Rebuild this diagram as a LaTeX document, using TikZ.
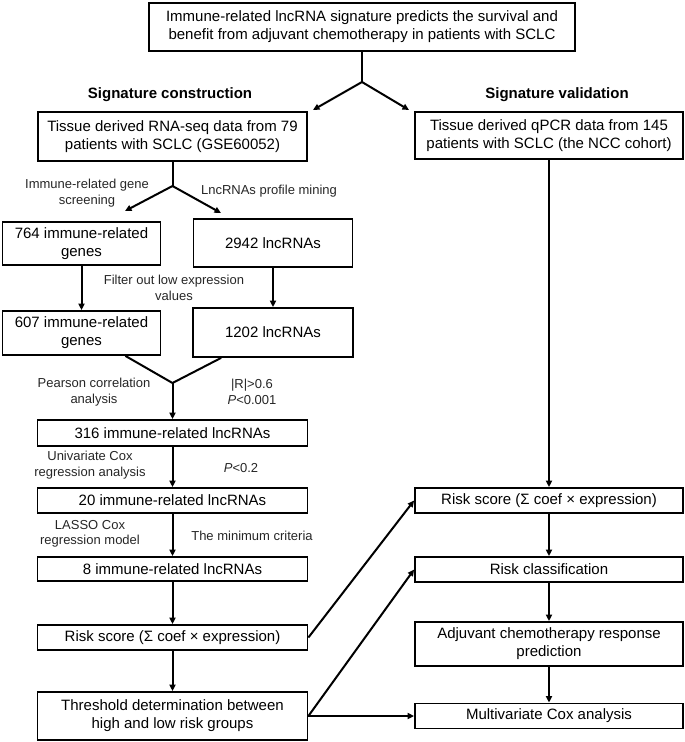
\documentclass[tikz,border=0pt]{standalone}
\usepackage{fontspec}
\setmainfont{Liberation Sans}
\usetikzlibrary{arrows.meta}
\begin{document}
\begin{tikzpicture}[x=1pt,y=-1pt,line width=2pt,
  box/.style={draw,line width=1.8pt,align=center,inner sep=0pt,font=\fontsize{15}{18}\selectfont},
  lbl/.style={align=center,inner sep=0pt,font=\fontsize{13}{15.5}\selectfont,text=black!85},
  head/.style={inner sep=0pt,font=\bfseries\fontsize{15}{18}\selectfont},
  arr/.style={-{Triangle[length=6.5pt,width=6pt]}}]
\useasboundingbox (0,0) rectangle (685,742);
% boxes
\node[box,minimum width=426pt,minimum height=48pt] (title) at (362,27)
  {Immune-related lncRNA signature predicts the survival and\\benefit from adjuvant chemotherapy in patients with SCLC};
\node[head] (hc) at (170,95) {Signature construction};
\node[head] (hv) at (557,95) {Signature validation};
\node[box,minimum width=269pt,minimum height=49pt] (rna) at (172.5,136.5)
  {Tissue derived RNA-seq data from 79\\patients with SCLC (GSE60052)};
\node[box,minimum width=268pt,minimum height=47pt] (ncc) at (549,135.5)
  {Tissue derived qPCR data from 145\\patients with SCLC (the NCC cohort)};
\node[box,minimum width=158pt,minimum height=43pt] (n764) at (81.5,243.5)
  {764 immune-related\\genes};
\node[box,minimum width=159pt,minimum height=48pt] (n2942) at (273,243)
  {2942 lncRNAs};
\node[box,minimum width=158pt,minimum height=44pt] (n607) at (81.5,333)
  {607 immune-related\\genes};
\node[box,minimum width=160pt,minimum height=49pt] (n1202) at (273,332.5)
  {1202 lncRNAs};
\node[box,minimum width=270pt,minimum height=26pt] (n316) at (172.5,433)
  {316 immune-related lncRNAs};
\node[box,minimum width=270pt,minimum height=25pt] (n20) at (172.5,500.5)
  {20 immune-related lncRNAs};
\node[box,minimum width=270pt,minimum height=24pt] (n8) at (172.5,569)
  {8 immune-related lncRNAs};
\node[box,minimum width=270pt,minimum height=25pt] (riskL) at (172.5,637.5)
  {Risk score (Σ coef × expression)};
\node[box,minimum width=270pt,minimum height=48pt] (thr) at (172.5,716)
  {Threshold determination between\\high and low risk groups};
\node[box,minimum width=268pt,minimum height=25pt] (riskR) at (549,500.5)
  {Risk score (Σ coef × expression)};
\node[box,minimum width=268pt,minimum height=25pt] (cls) at (549,569.5)
  {Risk classification};
\node[box,minimum width=268pt,minimum height=44pt] (adj) at (549,644)
  {Adjuvant chemotherapy response\\prediction};
\node[box,minimum width=268pt,minimum height=25pt] (multi) at (549,716)
  {Multivariate Cox analysis};
% labels
\node[lbl] (l1) at (87,193) {Immune-related gene\\screening};
\node[lbl] (l2) at (269,191) {LncRNAs profile mining};
\node[lbl] (l3) at (174,288) {Filter out low expression\\values};
\node[lbl] (l4) at (94,392) {Pearson correlation\\analysis};
\node[lbl] (l5) at (252,392) {|R|>0.6\\\textit{P}<0.001};
\node[lbl] (l6) at (90,465) {Univariate Cox\\regression analysis};
\node[lbl] (l7) at (241,468) {\textit{P}<0.2};
\node[lbl] (l8) at (90,534) {LASSO Cox\\regression model};
\node[lbl] (l9) at (252,536) {The minimum criteria};
% coordinates
\coordinate (s1) at (362,82);
\coordinate (t1l) at (313,110);
\coordinate (t1r) at (409,110);
\coordinate (s2) at (172.5,186);
\coordinate (t2l) at (125,211);
\coordinate (t2r) at (221,213);
\coordinate (m) at (172.5,383);
% connectors
\draw (title.south) -- (s1);
\draw[arr] (s1) -- (t1l);
\draw[arr] (s1) -- (t1r);
\draw (rna.south) -- (s2);
\draw[arr] (s2) -- (t2l);
\draw[arr] (s2) -- (t2r);
\draw[arr] (n764) -- (n607);
\draw[arr] (n2942) -- (n1202);
\draw ([xshift=-36pt]n607.south east) -- (m) -- ([xshift=29pt]n1202.south west);
\draw[arr] (m) -- (n316.north);
\draw[arr] (n316) -- (n20);
\draw[arr] (n20) -- (n8);
\draw[arr] (n8) -- (riskL);
\draw[arr] (riskL) -- (thr);
\draw[arr] (ncc) -- (riskR);
\draw[arr] (riskR) -- (cls);
\draw[arr] (cls) -- (adj);
\draw[arr] (adj) -- (multi);
\draw[arr] (riskL.east) -- (riskR.west);
\draw[arr] (thr.east) -- (cls.west);
\draw[arr] (thr.east) -- (multi.west);
\end{tikzpicture}
\end{document}
